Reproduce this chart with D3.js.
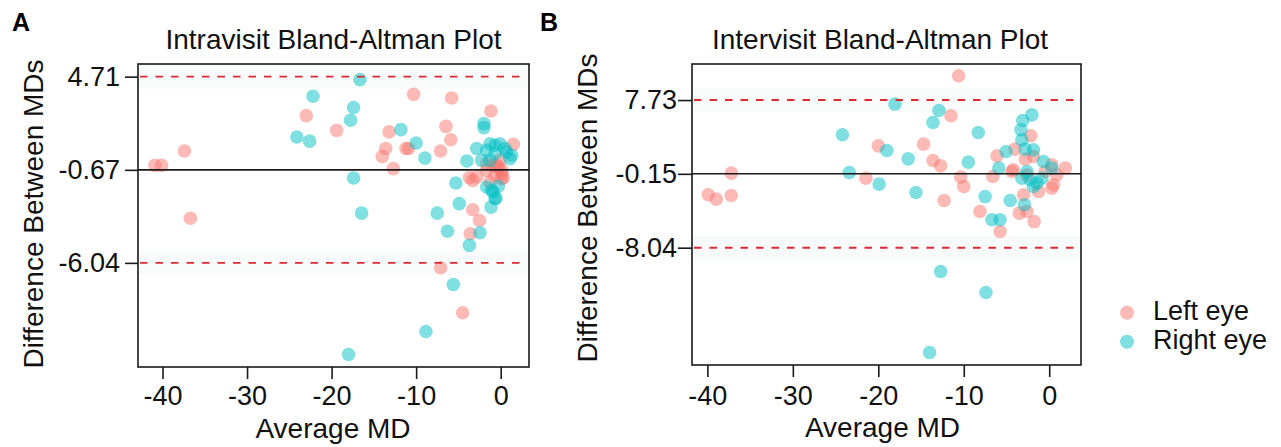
<!DOCTYPE html>
<html>
<head>
<meta charset="utf-8">
<script src="https://cdn.jsdelivr.net/npm/d3@7"></script>
<style>
  html, body { margin: 0; padding: 0; background: #fff; }
  svg { display: block; font-family: "Liberation Sans", Arial, Helvetica, sans-serif; }
</style>
</head>
<body>
<svg id="chart" width="1281" height="447"></svg>
<script>
// ---------- DATA ----------
const seriesNames = ["Left eye", "Right eye"];
const xTickValues = [-40, -30, -20, -10, 0];

// Panel A: Intravisit
const intraTitle = "Intravisit Bland-Altman Plot";
const intraLimits = [4.71, -0.67, -6.04]; // upper LoA, mean, lower LoA
const intraLeft = [
  [-40.9,-0.41],[-40.1,-0.41],[-37.4,0.42],[-36.7,-3.46],[-23.0,2.46],[-19.4,1.61],
  [-10.3,3.69],[-5.8,3.48],[-1.15,2.73],[-6.47,1.84],[-5.9,1.07],[-13.2,1.52],
  [-13.6,0.56],[-14.0,0.11],[-12.7,-0.6],[-11.2,0.56],[-10.9,0.56],[-7.1,0.42],
  [1.5,0.8],[-3.7,-1.12],[-3.3,-1.28],[-3.3,-2.97],[-2.5,-3.59],[-3.6,-4.36],
  [-7.1,-6.32],[-4.5,-8.92],[-1.66,-0.7],[-0.88,-0.41],[-0.28,-0.51],[0.12,-0.89],
  [0.31,-1.12],[-0.67,-0.99],[-1.27,-1.37],[-0.08,-0.12],[-2.84,-1.08],
  [-0.47,-0.41],[0.12,-0.7],[0.12,-1.18],[-1.66,-0.31]
];
const intraRight = [
  [-22.2,3.58],[-24.1,1.23],[-22.6,0.99],[-16.65,4.54],[-17.4,2.93],[-17.75,2.19],
  [-17.4,-1.14],[-16.45,-3.17],[-11.8,1.65],[-10.0,0.88],[-8.96,0.01],[-18.0,-11.33],
  [-8.84,-10.0],[-5.6,-7.29],[-7.5,-3.17],[-6.3,-4.21],[-5.3,-1.43],[-4.9,-2.62],
  [-3.7,-5.03],[-2.45,-4.3],[-1.15,-2.82],[-0.56,-2.3],[-1.98,2.0],[-1.98,1.77],
  [-2.84,0.56],[-4.0,-0.16],[-1.66,0.46],[-0.67,0.75],[-0.08,0.84],[0.51,0.56],
  [1.1,-0.02],[1.3,0.17],[-1.27,-0.12],[-2.25,-0.12],[-1.66,-1.66],[-0.88,-1.95],
  [-0.28,-1.62],[-1.27,0.84],[0.7,0.36],[-0.67,0.27],[-1.07,-1.85],[-0.67,-2.33]
];

// Panel B: Intervisit
const interTitle = "Intervisit Bland-Altman Plot";
const interLimits = [7.73, -0.15, -8.04];
const interLeft = [
  [-39.9,-2.39],[-38.96,-2.85],[-37.2,-0.08],[-37.2,-2.47],[-21.45,-0.61],[-20.0,2.84],
  [-10.6,10.32],[-11.5,6.05],[-14.7,3.02],[-13.6,1.27],[-12.7,0.7],[-10.35,-0.5],
  [-10.0,-1.51],[-12.3,-3.0],[-6.1,1.77],[-6.6,-0.44],[-8.1,-4.18],[-5.75,-6.31],
  [-4.2,0.28],[-2.15,3.91],[-3.0,-2.39],[-3.5,-4.35],[-2.6,-4.18],[-1.76,-5.25],
  [-4.0,2.49],[-2.8,1.42],[-1.84,1.7],[0.3,0.81],[1.88,0.46],[0.5,-1.33],
  [-1.25,-2.04],[-2.6,-0.26],[-0.47,0.1],[0.9,-0.26],[0.3,-1.68],[-4.37,0.1]
];
const interRight = [
  [-24.2,4.02],[-23.4,-0.01],[-19.9,-1.25],[-18.05,7.3],[-12.9,6.61],[-13.6,5.33],
  [-8.3,4.26],[-19.0,2.34],[-16.5,1.45],[-9.46,1.1],[-15.6,-2.15],[-7.5,-2.58],
  [-6.7,-5.06],[-5.75,-5.06],[-4.57,-3.0],[-2.9,-3.46],[-12.7,-10.59],[-7.4,-12.83],
  [-14.0,-19.24],[-2.03,6.15],[-3.1,5.54],[-3.3,4.55],[-3.2,3.48],[-5.04,2.23],
  [-5.9,0.46],[-2.8,2.49],[-1.84,2.41],[-0.67,1.16],[-3.2,-0.61],[-2.23,-0.79],
  [-1.44,-1.14],[-0.86,-0.61],[0.3,0.46],[-1.84,-1.51],[-2.6,0.1]
];

// ---------- DRAW ----------
const svg = d3.select("#chart");
const colors = ["#F8766D", "#00BFC4"];
const FONT = '"Liberation Sans", Arial, Helvetica, sans-serif';
const hyphen = f => (d => f(d).replace("\u2212", "-"));

function panel(cfg) {
  const x = d3.scaleLinear().domain(cfg.xDomain).range([cfg.x0, cfg.x1]);
  const y = d3.scaleLinear().domain(cfg.yDomain).range([cfg.y1, cfg.y0]);
  const g = svg.append("g");

  // very faint bands around the limits of agreement
  [cfg.limits[0], cfg.limits[2]].forEach(v => {
    g.append("rect")
      .attr("x", cfg.x0).attr("width", cfg.x1 - cfg.x0)
      .attr("y", y(v) - 12).attr("height", 24)
      .attr("fill", "#f9fbfb");
  });

  // points
  [cfg.left, cfg.right].forEach((data, i) => {
    g.append("g").selectAll("circle").data(data).join("circle")
      .attr("cx", d => x(d[0])).attr("cy", d => y(d[1]))
      .attr("r", 6.8)
      .attr("fill", colors[i]).attr("fill-opacity", 0.5);
  });

  // mean line
  g.append("line")
    .attr("x1", cfg.x0).attr("x2", cfg.x1)
    .attr("y1", y(cfg.limits[1])).attr("y2", y(cfg.limits[1]))
    .attr("stroke", "#1a1a1a").attr("stroke-width", 1.6);
  // limits of agreement
  [cfg.limits[0], cfg.limits[2]].forEach(v => {
    g.append("line")
      .attr("x1", cfg.x0 + 2).attr("x2", cfg.x1 - 4)
      .attr("y1", y(v)).attr("y2", y(v))
      .attr("stroke", "#dc2a33").attr("stroke-width", 1.9)
      .attr("stroke-dasharray", "7.5,8");
  });

  // box
  g.append("rect")
    .attr("x", cfg.x0).attr("y", cfg.y0)
    .attr("width", cfg.x1 - cfg.x0).attr("height", cfg.y1 - cfg.y0)
    .attr("fill", "none").attr("stroke", "#1a1a1a").attr("stroke-width", 1.6);

  // x axis
  const xa = g.append("g").attr("transform", `translate(0,${cfg.y1})`)
    .call(d3.axisBottom(x).tickValues(xTickValues).tickSize(12).tickPadding(cfg.xPad)
      .tickFormat(hyphen(d3.format("d"))));
  xa.select(".domain").remove();
  xa.selectAll("line").attr("stroke", "#1a1a1a").attr("stroke-width", 1.6);
  xa.selectAll("text").attr("font-size", 27).attr("font-family", FONT).attr("fill", "#111");

  // y axis
  const ya = g.append("g").attr("transform", `translate(${cfg.x0},0)`)
    .call(d3.axisLeft(y).tickValues(cfg.limits).tickSize(cfg.yTick).tickPadding(cfg.yPad)
      .tickFormat(hyphen(d3.format(".2f"))));
  ya.select(".domain").remove();
  ya.selectAll("line").attr("stroke", "#1a1a1a").attr("stroke-width", 1.6);
  ya.selectAll("text").attr("font-size", 27).attr("font-family", FONT).attr("fill", "#111");

  // titles
  g.append("text").attr("x", cfg.titleX).attr("y", 49)
    .attr("text-anchor", "middle").attr("font-size", 28).attr("fill", "#111")
    .text(cfg.title);
  g.append("text").attr("x", cfg.xTitleX).attr("y", cfg.xTitleY)
    .attr("text-anchor", "middle").attr("font-size", 28).attr("fill", "#111")
    .text("Average MD");
  g.append("text")
    .attr("transform", `translate(${cfg.yTitleX},${cfg.yTitleY}) rotate(-90)`)
    .attr("text-anchor", "middle").attr("font-size", 28).attr("fill", "#111")
    .text("Difference Between MDs");
  g.append("text").attr("x", cfg.letterX).attr("y", 31)
    .attr("font-size", 25).attr("font-weight", "bold").attr("fill", "#000")
    .text(cfg.letter);
}

panel({
  title: intraTitle, letter: "A", letterX: 12,
  left: intraLeft, right: intraRight, limits: intraLimits,
  x0: 138, x1: 529, y0: 64, y1: 367,
  xDomain: [-42.9, 3.35], yDomain: [-12.05, 5.44],
  xPad: 7, yTick: 13, yPad: 5,
  titleX: 333.5, xTitleX: 333, xTitleY: 438,
  yTitleX: 43, yTitleY: 214
});

panel({
  title: interTitle, letter: "B", letterX: 540,
  left: interLeft, right: interRight, limits: interLimits,
  x0: 692, x1: 1081, y0: 64, y1: 365,
  xDomain: [-41.8, 3.72], yDomain: [-20.57, 11.58],
  xPad: 9, yTick: 14, yPad: 1,
  titleX: 880, xTitleX: 882.5, xTitleY: 437,
  yTitleX: 597, yTitleY: 208
});

// legend
const lg = svg.append("g");
seriesNames.forEach((name, i) => {
  const cy = 312.7 + i * 29;
  lg.append("circle").attr("cx", 1127).attr("cy", cy).attr("r", 7)
    .attr("fill", colors[i]).attr("fill-opacity", 0.5);
  lg.append("text").attr("x", 1153).attr("y", cy + 7)
    .attr("font-size", 27).attr("fill", "#111").attr("font-family", FONT)
    .text(name);
});
</script>
</body>
</html>
